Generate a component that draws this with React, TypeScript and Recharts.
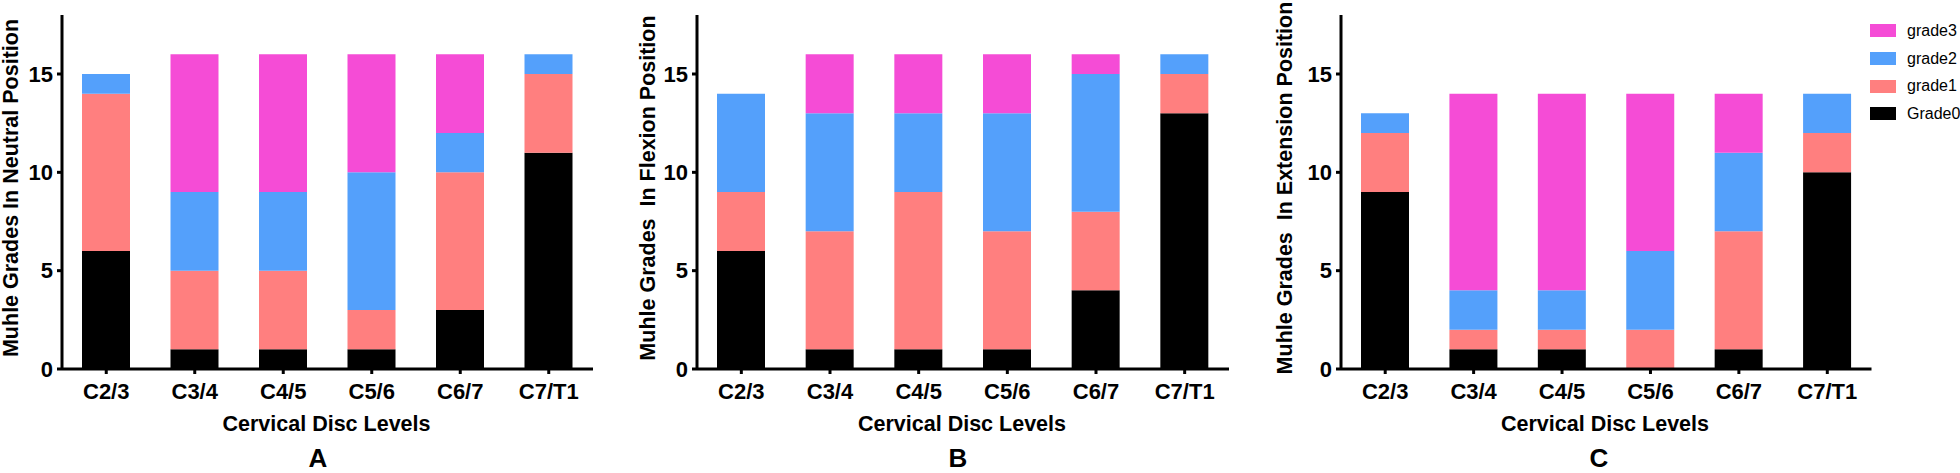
import React from 'react';
import { BarChart, Bar, XAxis, YAxis, Legend } from 'recharts';

const categories = ['C2/3', 'C3/4', 'C4/5', 'C5/6', 'C6/7', 'C7/T1'];

const neutralGrade0 = [6, 1, 1, 1, 3, 11];
const neutralGrade1 = [8, 4, 4, 2, 7, 4];
const neutralGrade2 = [1, 4, 4, 7, 2, 1];
const neutralGrade3 = [0, 7, 7, 6, 4, 0];

const flexionGrade0 = [6, 1, 1, 1, 4, 13];
const flexionGrade1 = [3, 6, 8, 6, 4, 2];
const flexionGrade2 = [5, 6, 4, 6, 7, 1];
const flexionGrade3 = [0, 3, 3, 3, 1, 0];

const extensionGrade0 = [9, 1, 1, 0, 1, 10];
const extensionGrade1 = [3, 1, 1, 2, 6, 2];
const extensionGrade2 = [1, 2, 2, 4, 4, 2];
const extensionGrade3 = [0, 10, 10, 8, 3, 0];

const yTicks = [0, 5, 10, 15];
const yDomain = [0, 18];

const seriesKeys = ['grade0', 'grade1', 'grade2', 'grade3'];
const seriesNames = ['Grade0', 'grade1', 'grade2', 'grade3'];
const seriesColors = ['#000000', '#FF7F7F', '#54A0FB', '#F54CD6'];

const yTitles = [
  'Muhle Grades In Neutral Position',
  'Muhle Grades  In Flexion Position',
  'Muhle Grades  In Extension Position',
];
const xTitle = 'Cervical Disc Levels';
const panelLetters = ['A', 'B', 'C'];

const FONT = '"Liberation Sans", Arial, Helvetica, sans-serif';

function buildRows(g0: number[], g1: number[], g2: number[], g3: number[]) {
  return categories.map((c, i) => ({
    level: c,
    grade0: g0[i],
    grade1: g1[i],
    grade2: g2[i],
    grade3: g3[i],
  }));
}

const panels = [
  { rows: buildRows(neutralGrade0, neutralGrade1, neutralGrade2, neutralGrade3), left: 0, width: 598, yw: 62, mr: 5, legend: false },
  { rows: buildRows(flexionGrade0, flexionGrade1, flexionGrade2, flexionGrade3), left: 640, width: 594, yw: 57, mr: 5, legend: false },
  { rows: buildRows(extensionGrade0, extensionGrade1, extensionGrade2, extensionGrade3), left: 1290, width: 670, yw: 51, mr: 88.5, legend: true },
];

// overlay text positions
const yTitleX = [10, 647, 1284];
const xTitleX = [326.5, 962, 1605];
const letterX = [318, 958, 1599];

const tickStyle = { fill: '#000', fontSize: 22, fontWeight: 'bold' as const, fontFamily: FONT };

const renderLegend = () => (
  <div style={{ fontFamily: FONT, fontSize: 16, width: 100 }}>
    {[3, 2, 1, 0].map((i) => (
      <div key={i} style={{ display: 'flex', alignItems: 'center', height: 27.7 }}>
        <div style={{ width: 26, height: 13, background: seriesColors[i], flex: 'none' }} />
        <span style={{ marginLeft: 11, whiteSpace: 'nowrap', color: '#000' }}>{seriesNames[i]}</span>
      </div>
    ))}
  </div>
);

function Panel({ p }: { p: any }) {
  return (
    <div style={{ position: 'absolute', left: p.left, top: 0 }}>
      <BarChart
        width={p.width}
        height={473}
        data={p.rows}
        margin={{ top: 15, right: p.mr, bottom: 74, left: 0 }}
        barSize={48}
      >
        <XAxis
          dataKey="level"
          height={30}
          interval={0}
          axisLine={{ stroke: '#000', strokeWidth: 3 }}
          tickLine={{ stroke: '#000', strokeWidth: 3 }}
          tickSize={5}
          tickMargin={9}
          tick={tickStyle}
        />
        <YAxis
          width={p.yw}
          domain={yDomain}
          ticks={yTicks}
          allowDataOverflow
          axisLine={{ stroke: '#000', strokeWidth: 3 }}
          tickLine={{ stroke: '#000', strokeWidth: 3 }}
          tickSize={5}
          tickMargin={4}
          tick={tickStyle}
        />
        {seriesKeys.map((k, i) => (
          <Bar
            key={k}
            dataKey={k}
            name={seriesNames[i]}
            stackId="s"
            fill={seriesColors[i]}
            isAnimationActive={false}
          />
        ))}
        {p.legend && (
          <Legend
            layout="vertical"
            align="center"
            verticalAlign="middle"
            content={renderLegend}
            wrapperStyle={{ left: 1870 - 1290, top: 17, width: 100 }}
          />
        )}
      </BarChart>
    </div>
  );
}

export default function App() {
  return (
    <div style={{ position: 'absolute', left: 0, top: 0, width: 1960, height: 473, background: '#fff', overflow: 'hidden' }}>
      {panels.map((p, i) => (
        <Panel key={i} p={p} />
      ))}
      <svg
        width={1960}
        height={473}
        style={{ position: 'absolute', left: 0, top: 0, pointerEvents: 'none' }}
      >
        {panelLetters.map((L, i) => (
          <g key={L} fontFamily={FONT} fontWeight="bold" fill="#000">
            <text
              x={yTitleX[i]}
              y={188}
              dy="0.36em"
              fontSize={21.5}
              textAnchor="middle"
              transform={`rotate(-90, ${yTitleX[i]}, 188)`}
              style={{ whiteSpace: 'pre' }}
            >
              {yTitles[i]}
            </text>
            <text x={xTitleX[i]} y={431} fontSize={21.5} textAnchor="middle">
              {xTitle}
            </text>
            <text x={letterX[i]} y={467} fontSize={26} textAnchor="middle">
              {L}
            </text>
          </g>
        ))}
      </svg>
    </div>
  );
}
